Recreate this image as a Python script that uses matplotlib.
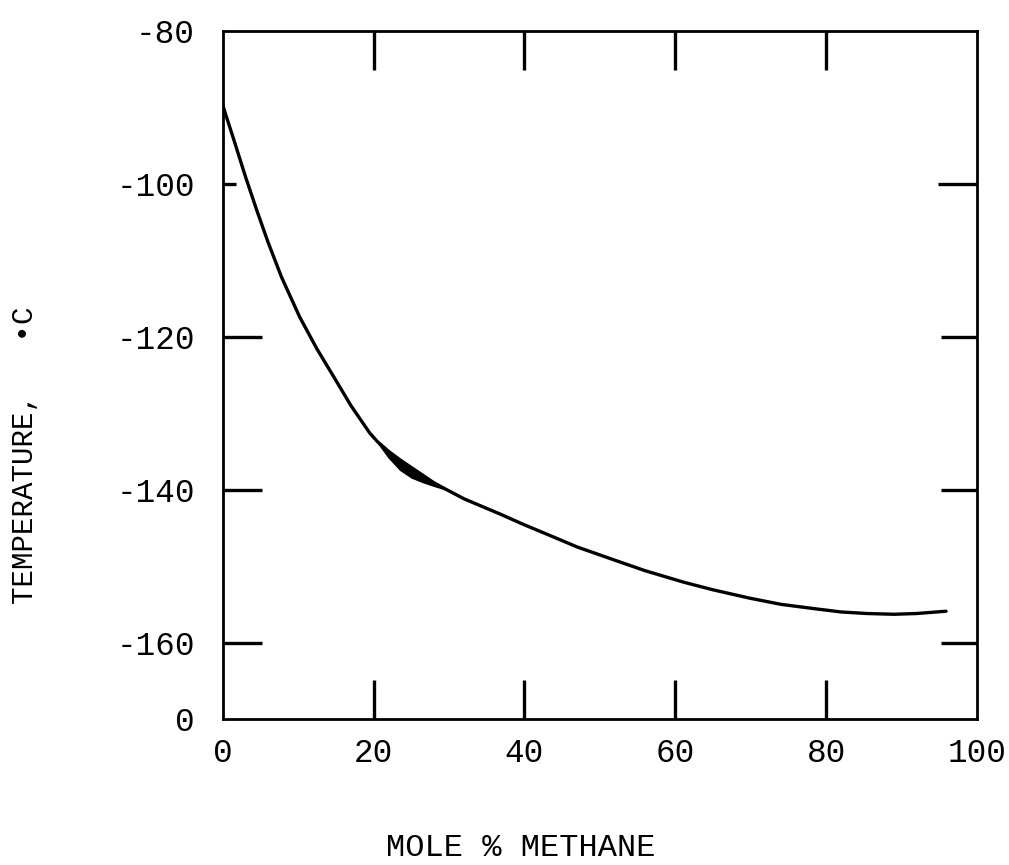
import matplotlib
matplotlib.use("Agg")
import matplotlib.pyplot as plt

# Data
mole_pct = [0, 1.5, 3.0, 4.5, 6.0, 7.8, 10.2, 12.5, 14.7, 17.0, 19.5, 20.5, 22.0,
            23.5, 25.0, 26.5, 28.0, 29.5, 32.0, 36.8, 40.0, 43.4, 47.0, 52.2,
            56.0, 61.1, 65.0, 69.9, 74.0, 78.7, 82.0, 85.4, 89.0, 92.0, 95.9]
temp_c = [-89.7, -94.3, -99.0, -103.4, -107.6, -112.2, -117.4, -121.6, -125.2,
          -129.0, -132.6, -133.7, -135.0, -136.1, -137.1, -138.1, -139.1, -139.9,
          -141.2, -143.2, -144.6, -146.0, -147.5, -149.3, -150.6, -152.1, -153.1,
          -154.2, -155.0, -155.6, -156.0, -156.2, -156.3, -156.2, -155.9]

# small lens-shaped thickening of the line near 21-29 mole %
lens_x = [20.5, 22.0, 23.5, 25.0, 26.5, 28.0, 29.5]
lens_upper = [-133.7, -135.0, -136.1, -137.1, -138.1, -139.1, -139.9]
lens_lower = [-133.8, -135.8, -137.4, -138.4, -139.0, -139.5, -139.95]

x_ticks = [0, 20, 40, 60, 80, 100]
x_ticklabels = ["0", "20", "40", "60", "80", "100"]
y_ticks = [-170, -160, -140, -120, -100, -80]
y_ticklabels = ["0", "-160", "-140", "-120", "-100", "-80"]

FONT = "Liberation Mono"
W, H = 1009, 865
fig = plt.figure(figsize=(W / 100, H / 100), dpi=100)
left, right, top, bottom = 222.7, 977.0, 31.0, 719.0
ax = fig.add_axes([left / W, 1 - bottom / H, (right - left) / W, (bottom - top) / H])

ax.plot(mole_pct, temp_c, color="black", lw=2.4, solid_capstyle="round",
        solid_joinstyle="round")
ax.fill_between(lens_x, lens_lower, lens_upper, color="black", lw=1.0)

ax.set_xlim(0, 100)
ax.set_ylim(-170, -80)

ax.set_xticks(x_ticks)
ax.set_xticklabels(x_ticklabels, fontfamily=FONT, fontsize=23.5)
ax.set_yticks(y_ticks)
ax.set_yticklabels(y_ticklabels, fontfamily=FONT, fontsize=23.5)

ax.tick_params(axis="both", which="major", direction="in", length=28, width=2.4,
               color="black", top=True, right=True, labeltop=False, labelright=False)
ax.tick_params(axis="x", pad=14)
ax.tick_params(axis="y", pad=20)

# hide tick marks at the corners
for t in ax.xaxis.get_major_ticks():
    if t.get_loc() in (0, 100):
        t.tick1line.set_visible(False)
        t.tick2line.set_visible(False)
for t in ax.yaxis.get_major_ticks():
    if t.get_loc() in (-170, -80):
        t.tick1line.set_visible(False)
        t.tick2line.set_visible(False)
    if t.get_loc() == -100:
        t.tick1line.set_markersize(9.5)
    else:
        t.tick2line.set_markersize(26)

for s in ax.spines.values():
    s.set_linewidth(2.0)
    s.set_color("black")

ax.set_xlabel("MOLE % METHANE", fontfamily=FONT, fontsize=23)
ax.xaxis.set_label_coords((521 - left) / (right - left), (bottom - 848) / (bottom - top))
ax.xaxis.label.set_va("center")
ax.set_ylabel("TEMPERATURE,   \u2022C", fontfamily=FONT, fontsize=21)
ax.yaxis.set_label_coords((25 - left) / (right - left), (bottom - 455) / (bottom - top))
ax.yaxis.label.set_va("center")

fig.savefig("out.png", dpi=100, facecolor="white")
